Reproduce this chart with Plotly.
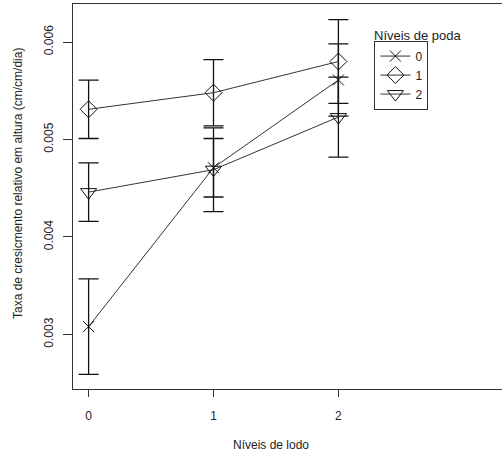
import plotly.graph_objects as go

# Data
niveis_lodo = [0, 1, 2]
series_names = ["0", "1", "2"]
poda0_mean = [0.00308, 0.00471, 0.00561]
poda0_err = [0.00049, 0.00030, 0.00037]
poda1_mean = [0.00531, 0.00548, 0.00580]
poda1_err = [0.00030, 0.00034, 0.00043]
poda2_mean = [0.00446, 0.00469, 0.00523]
poda2_err = [0.00030, 0.00043, 0.00041]
y_ticks = [0.003, 0.004, 0.005, 0.006]
y_ticklabels = ["0.003", "0.004", "0.005", "0.006"]
x_ticks = [0, 1, 2]

FONT = "Arial, Liberation Sans, sans-serif"
TXT = "#222222"

series = [
    (series_names[0], poda0_mean, poda0_err, "x-thin-open", 11),
    (series_names[1], poda1_mean, poda1_err, "diamond-open", 13),
    (series_names[2], poda2_mean, poda2_err, "triangle-down-open", 14),
]

fig = go.Figure()
for name, mean, err, sym, size in series:
    fig.add_trace(go.Scatter(
        x=niveis_lodo, y=mean, name=name, mode="lines+markers",
        line=dict(color="#333333", width=1),
        marker=dict(symbol=sym, size=size, color="#111111",
                    line=dict(color="#111111", width=1)),
        error_y=dict(type="data", array=err, visible=True,
                     color="#111111", thickness=1.3, width=10),
    ))

fig.update_layout(
    width=502, height=459,
    margin=dict(l=73, r=0, t=4, b=70),
    paper_bgcolor="white", plot_bgcolor="white",
    font=dict(family=FONT, size=12, color=TXT),
    showlegend=True,
    legend=dict(
        x=0.7026, y=0.905, xanchor="left", yanchor="top",
        bordercolor="#333333", borderwidth=1, bgcolor="white",
        font=dict(family=FONT, size=12, color=TXT),
        tracegroupgap=0, itemwidth=30,
    ),
    xaxis=dict(
        range=[-0.125, 3.31], tickvals=x_ticks, ticktext=[str(v) for v in x_ticks],
        showgrid=False, zeroline=False, showline=True, mirror=True,
        linecolor="#333333", linewidth=1.3,
        ticks="outside", ticklen=7, tickcolor="#333333",
        ticklabelstandoff=8,
        tickfont=dict(family=FONT, size=12, color=TXT),
    ),
    yaxis=dict(
        range=[0.00244, 0.00639], tickvals=y_ticks, ticktext=y_ticklabels,
        showgrid=False, zeroline=False, showline=True, mirror=False,
        linecolor="#333333", linewidth=1.3,
        ticks="outside", ticklen=9, tickcolor="#333333",
        tickangle=-90, ticklabelstandoff=5,
        tickfont=dict(family=FONT, size=12, color=TXT),
    ),
    annotations=[
        dict(text="Taxa de cresicmento relativo em altura (cm/cm/dia)",
             xref="paper", yref="paper", x=-0.1297, y=0.5334,
             xanchor="center", yanchor="middle", textangle=-90,
             showarrow=False, font=dict(family=FONT, size=12, color=TXT)),
        dict(text="Níveis de lodo",
             xref="paper", yref="paper", x=0.462, y=-0.1463,
             xanchor="center", yanchor="middle",
             showarrow=False, font=dict(family=FONT, size=12, color=TXT)),
        dict(text="Níveis de poda",
             xref="paper", yref="paper", x=0.6965, y=0.919,
             xanchor="left", yanchor="middle",
             showarrow=False, font=dict(family=FONT, size=13, color=TXT)),
    ],
)

fig.write_html("out.html")
